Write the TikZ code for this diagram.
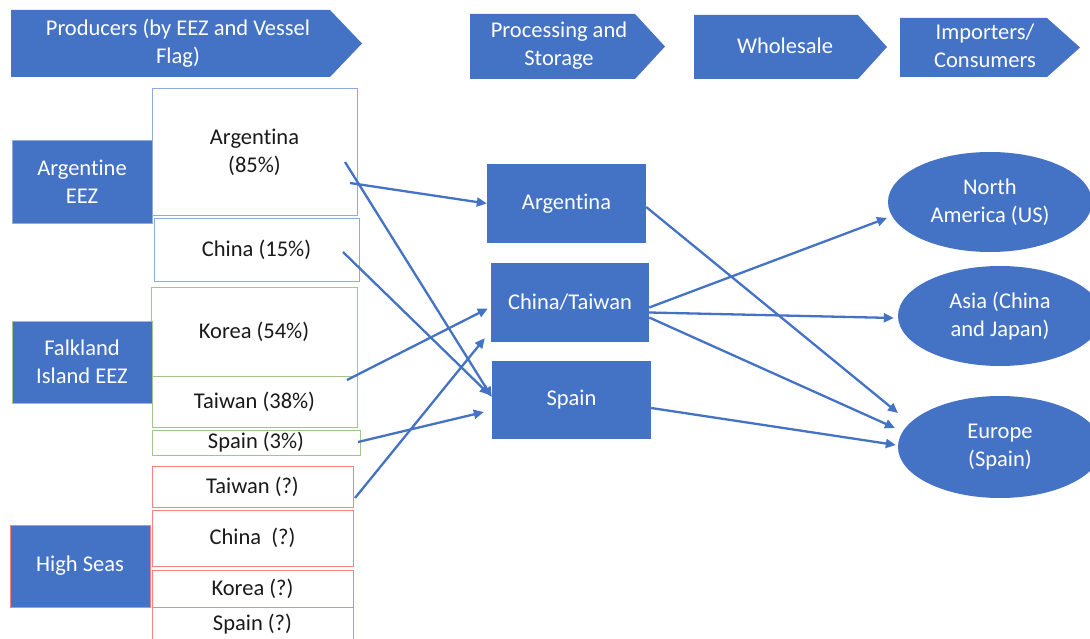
\documentclass[tikz,border=0pt]{standalone}
\usepackage{fontspec}
\setmainfont{Carlito}[Ligatures=NoCommon]
\usetikzlibrary{arrows.meta,shapes.geometric}
\definecolor{mblue}{HTML}{4472C4}
\definecolor{lblue}{HTML}{8FAADC}
\definecolor{lgreen}{HTML}{A3C48C}
\definecolor{lred}{HTML}{FF8080}
\definecolor{dtext}{HTML}{1A1A1A}
\begin{document}
\begin{tikzpicture}[x=1pt,y=-1pt,
  txt/.style={font=\fontsize{22.5}{28}\selectfont, align=center},
  bluebox/.style={txt, fill=mblue, text=white, inner sep=0pt},
  prodbox/.style={txt, draw, fill=white, text=dtext, line width=1pt, inner sep=0pt},
  ell/.style={txt, ellipse, fill=mblue, text=white, inner sep=0pt},
  chev/.style={fill=mblue},
  flow/.style={draw=mblue, line width=2.3pt, -{Triangle[length=10pt,width=9pt]}}
]
\useasboundingbox (0,0) rectangle (1090,639);
\fill[white] (0,0) rectangle (1090,639);

% header chevrons
\fill[chev] (11,10) -- (330,10) -- (362,43.5) -- (330,77) -- (11,77) -- cycle;
\node[txt, text=white] (hProd) at (178,43) {Producers (by EEZ and Vessel\\Flag)};
\fill[chev] (470,14) -- (635,14) -- (665,46.5) -- (635,79) -- (470,79) -- cycle;
\node[txt, text=white] (hProc) at (559,46) {Processing and\\Storage};
\fill[chev] (694,15) -- (858,15) -- (887,47) -- (858,79) -- (694,79) -- cycle;
\node[txt, text=white] (hWhole) at (785,46) {Wholesale};
\fill[chev] (900,18) -- (1047,18) -- (1080,47.5) -- (1047,77) -- (900,77) -- cycle;
\node[txt, text=white] (hImp) at (985,46) {Importers/\\Consumers};

% producer boxes
\node[prodbox, draw=lblue, minimum width=205, minimum height=127] (pArg) at (254.5,152.5) {Argentina\\(85\%)};
\node[prodbox, draw=lblue, minimum width=205, minimum height=62] (pChn) at (256.5,250) {China (15\%)};
\node[prodbox, draw=lgreen, minimum width=206, minimum height=89] (pKor) at (254,331.5) {Korea (54\%)};
\node[prodbox, draw=lgreen, minimum width=205, minimum height=51] (pTwn) at (254.5,401.5) {Taiwan (38\%)};
\node[prodbox, draw=lgreen, minimum width=208, minimum height=25] (pSpa) at (256,442.5) {Spain (3\%)};
\node[prodbox, draw=lred, minimum width=201, minimum height=41] (pTwnQ) at (252.5,486.5) {Taiwan (?)};
\node[prodbox, draw=lred, minimum width=201, minimum height=56] (pChnQ) at (252.5,538) {China\ \ (?)};
\node[prodbox, draw=lred, minimum width=201, minimum height=37] (pKorQ) at (252.5,588.5) {Korea (?)};
\node[prodbox, draw=lred, minimum width=201, minimum height=34] (pSpaQ) at (252.5,624) {Spain (?)};

% region boxes
\node[bluebox, draw=lblue, line width=0.6pt, minimum width=140, minimum height=83] (rArg) at (82,181.5) {Argentine\\EEZ};
\node[bluebox, draw=lgreen, line width=0.6pt, minimum width=140, minimum height=82] (rFal) at (82,362) {Falkland\\Island EEZ};
\node[bluebox, draw=lred, line width=0.8pt, minimum width=140, minimum height=82] (rHS) at (80,566) {High Seas};

% processing boxes
\node[bluebox, minimum width=159, minimum height=79] (procArg) at (566.5,203.5) {Argentina};
\node[bluebox, minimum width=158, minimum height=79] (ct) at (570,302.5) {China/Taiwan};
\node[bluebox, minimum width=159, minimum height=78] (spP) at (571.5,400) {Spain};

% consumers
\node[ell, minimum width=204, minimum height=100] (na) at (990,202) {North\\America (US)};
\node[ell, minimum width=204, minimum height=100] (asia) at (1000,316) {Asia (China\\and Japan)};
\node[ell, minimum width=204, minimum height=102] (eu) at (1000,447) {Europe\\(Spain)};

% start / end coordinates
\coordinate (sA1) at (350,183);
\coordinate (sA2) at (345,162);
\coordinate (sC) at (343,252);
\coordinate (sT) at (347,380);
\coordinate (sS) at (358,442);
\coordinate (sTQ) at (355,498);
\coordinate (eNA) at (887,218);
\coordinate (eEu1) at (898,413);
\coordinate (eEu2) at (895,428);

% flows to processing
\draw[flow] (sA1) -- (procArg.west);
\draw[flow] (sA2) -- ([yshift=3pt]spP.west);
\draw[flow] (sC) -- ([xshift=-2pt,yshift=5pt]spP.west);
\draw[flow] (sT) -- ([xshift=-3pt,yshift=-6pt]ct.west);
\draw[flow] (sS) -- ([xshift=-8pt,yshift=-12pt]spP.west);
\draw[flow] (sTQ) -- ([xshift=-6pt,yshift=4pt]ct.south west);

% flows to consumers
\draw[flow] ([yshift=-3.5pt]procArg.east) -- (eEu1);
\draw[flow] ([yshift=-5pt]ct.east) -- (eNA);
\draw[flow] ([yshift=-10pt]ct.east) -- ([xshift=-4pt,yshift=-2pt]asia.west);
\draw[flow] ([yshift=-15pt]ct.east) -- (eEu2);
\draw[flow] ([yshift=-8pt]spP.east) -- ([xshift=-2pt,yshift=2pt]eu.west);
\end{tikzpicture}
\end{document}
